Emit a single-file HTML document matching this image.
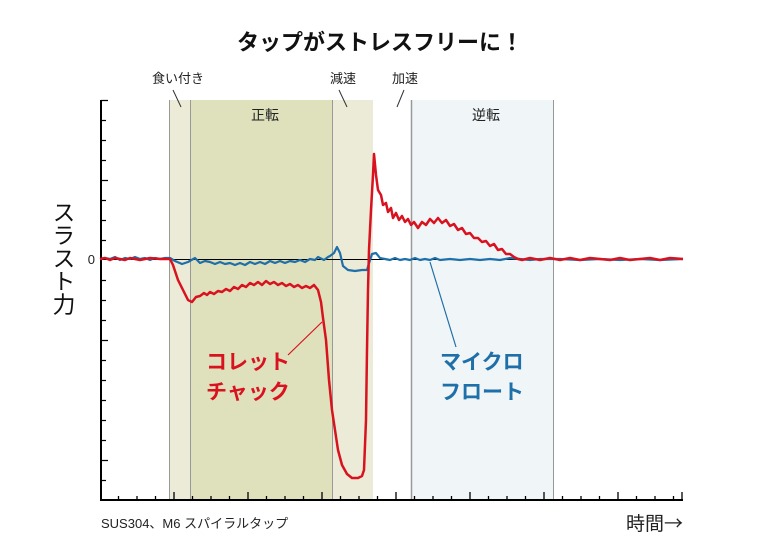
<!DOCTYPE html>
<html><head><meta charset="utf-8"><style>
html,body{margin:0;padding:0;background:#fff;}
svg{display:block;font-family:"Liberation Sans","Noto Sans CJK JP",sans-serif;}
</style></head><body>
<svg width="761" height="552" viewBox="0 0 761 552" xmlns="http://www.w3.org/2000/svg">
<rect width="761" height="552" fill="#fff"/>
<text x="380" y="50" font-size="22" font-weight="bold" text-anchor="middle" fill="#111">タップがストレスフリーに！</text>
<rect x="169" y="100" width="21" height="400" fill="#ebebd7"/>
<rect x="190" y="100" width="142" height="400" fill="#dfe1bd"/>
<rect x="332" y="100" width="41" height="400" fill="#ebebd7"/>
<rect x="411" y="100" width="142" height="400" fill="#f0f5f7"/>
<g stroke="#999" stroke-width="1">
<line x1="169.5" y1="100" x2="169.5" y2="500"/><line x1="190.5" y1="100" x2="190.5" y2="500"/>
<line x1="332.5" y1="100" x2="332.5" y2="500"/><line x1="411.5" y1="100" x2="411.5" y2="500" stroke-width="1.5"/>
<line x1="553.5" y1="100" x2="553.5" y2="500"/>
</g>
<g font-size="13" fill="#222" text-anchor="middle">
<text x="178" y="83">食い付き</text><text x="343" y="83">減速</text><text x="405" y="83">加速</text>
<text x="265" y="120" font-size="14">正転</text><text x="486" y="120" font-size="14">逆転</text>
</g>
<g stroke="#333" stroke-width="1">
<line x1="173" y1="90" x2="181" y2="107"/><line x1="339" y1="90" x2="347" y2="107"/><line x1="404" y1="90" x2="397" y2="107"/>
</g>
<line x1="100" y1="259.5" x2="683" y2="259.5" stroke="#000" stroke-width="1"/>
<text x="95" y="264" font-size="13" text-anchor="end" fill="#222">0</text>
<path d="M101 100 V500 H683" fill="none" stroke="#000" stroke-width="2"/>
<g stroke="#000" stroke-width="1.3">
<path d="M101 100.5h7M101 120.5h5M101 140.5h5M101 160.5h5M101 180.5h7M101 200.5h5M101 220.5h5M101 240.5h5M101 280.5h5M101 300.5h5M101 320.5h5M101 340.5h7M101 360.5h5M101 380.5h5M101 400.5h5M101 420.5h5M101 440.5h5M101 460.5h7M101 480.5h5"/>
</g>
<g stroke="#000" stroke-width="1.3">
<path d="M118.5 500v-4M137 500v-4M155.5 500v-4M174 500v-8M192.5 500v-4M211 500v-4M229.5 500v-4M248 500v-8M266.5 500v-4M285 500v-4M303.5 500v-4M322 500v-8M340.5 500v-4M359 500v-4M377.5 500v-4M396 500v-8M414.5 500v-4M433 500v-4M451.5 500v-4M470 500v-8M488.5 500v-4M507 500v-4M525.5 500v-4M544 500v-8M562.5 500v-4M581 500v-4M599.5 500v-4M618 500v-8M636.5 500v-4M655 500v-4M673.5 500v-4M682 500v-8"/>
</g>
<polyline fill="none" stroke="#1f6fa8" stroke-width="2.2" stroke-linejoin="round" points="100,259 105,258 110,259 115,257 120,260 125,258 130,259 135,257 140,259 145,258 150,260 155,258 160,259 165,258 170,258 175,261 182,264 188,262 195,258 200,263 205,261 210,262 215,264 220,262 225,264 230,263 235,265 240,263 245,265 250,262 255,264 260,262 265,264 270,261 275,263 280,261 285,263 290,261 295,262 300,260 305,262 310,259 315,260 318,257 322,259 324,260 328,257 330,256 334,253 337,247 340,253 343,266 348,270 355,271 362,270 367,270 370,260 372,254 376,253 380,258 385,259 390,260 395,258 400,260 405,259 410,260 415,258 420,260 425,259 430,260 435,258 440,260 450,259 460,260 470,259 480,260 490,259 500,260 510,258 520,259 530,260 540,259 560,259 580,260 600,259 620,260 640,259 660,260 683,259"/>
<polyline fill="none" stroke="#d9121f" stroke-width="2.5" stroke-linejoin="round" points="100,259 105,258 110,260 115,258 120,259 125,260 130,258 135,259 140,260 150,258 160,259 170,259 173,265 178,280 184,292 188,300 192,302 196,297 200,296 204,293 207,295 210,292 214,294 218,291 222,292 226,289 230,291 234,287 238,289 242,285 246,287 250,283 254,285 258,282 262,285 266,281 270,284 274,282 278,285 282,283 286,286 290,284 294,287 298,285 302,288 306,286 310,288 314,285 318,290 321,302 323,318 326,340 329,380 332,410 335,430 338,450 342,465 347,474 352,478 358,478 362,476 364,470 366,420 367,350 368,290 369,250 371,210 373,175 374,154 376,175 378,190 381,195 383,205 386,203 388,212 391,208 393,218 396,213 399,220 402,216 405,222 408,219 411,225 414,222 418,228 422,222 426,225 430,219 434,223 438,218 442,223 446,220 450,226 454,224 458,230 462,228 466,234 470,233 474,238 478,238 482,242 486,241 490,246 494,244 498,250 502,249 506,254 510,254 514,257 518,259 522,260 530,258 540,260 550,258 560,260 570,258 580,260 590,258 600,259 610,260 620,258 630,260 640,259 650,258 660,260 670,258 683,259"/>
<line x1="288" y1="355" x2="322" y2="322" stroke="#d9121f" stroke-width="1.2"/>
<line x1="430" y1="262" x2="456" y2="347" stroke="#1f6fa8" stroke-width="1.2"/>
<g font-size="21" font-weight="bold" fill="#d9121f">
<text x="206" y="369">コレット</text><text x="206" y="399">チャック</text>
</g>
<g font-size="21" font-weight="bold" fill="#1f6fa8">
<text x="440" y="369">マイクロ</text><text x="440" y="399">フロート</text>
</g>
<text x="62" y="258" font-size="23" fill="#111" text-anchor="middle" style="writing-mode:vertical-rl">スラスト力</text>
<text x="101" y="528" font-size="13" fill="#222">SUS304、M6 スパイラルタップ</text>
<text x="683" y="530" font-size="19" fill="#222" text-anchor="end">時間<tspan font-family="Noto Sans CJK JP">→</tspan></text>
</svg>
</body></html>
